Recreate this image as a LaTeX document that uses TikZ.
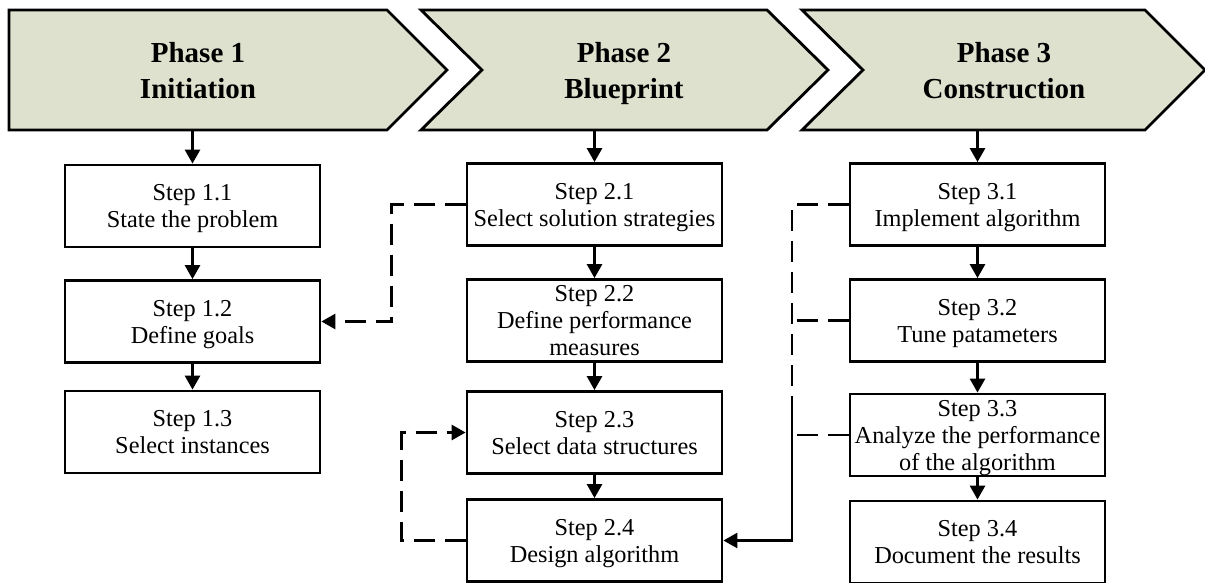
\documentclass[tikz,border=0pt]{standalone}
\usepackage{fontspec}
\setmainfont{Liberation Serif}
\usetikzlibrary{arrows.meta}
\definecolor{chevfill}{RGB}{221,225,205}
\begin{document}
\begin{tikzpicture}[x=1pt,y=-1pt,
  line width=2.8pt,
  stepbox/.style={draw=black, fill=white, minimum width=255pt, minimum height=82pt, inner sep=0pt, text depth=0pt, align=center, font=\fontsize{24.3}{27}\selectfont},
  phasetext/.style={minimum height=120pt, inner sep=0pt, text depth=0pt, align=center, font=\fontsize{29}{36}\selectfont\bfseries},
  chev/.style={draw=black, fill=chevfill, line join=miter},
  arr/.style={-{Triangle[length=14pt,width=15pt]}},
  dsh/.style={dash pattern=on 21pt off 10pt}
]
\useasboundingbox (0,0) rectangle (1205,583);

% chevrons
\path[chev] (9,10) -- (387,10) -- (447,70) -- (387,130) -- (9,130) -- cycle;
\path[chev] (421,10) -- (767,10) -- (828,70) -- (767,130) -- (421,130) -- (482,70) -- cycle;
\path[chev] (802,10) -- (1145,10) -- (1205,70) -- (1145,130) -- (802,130) -- (863,70) -- cycle;

\node[phasetext] (ph1) at (198,70) {Phase 1\\Initiation};
\node[phasetext] (ph2) at (624,70) {Phase 2\\Blueprint};
\node[phasetext] (ph3) at (1004,70) {Phase 3\\Construction};

% steps
\node[stepbox] (s11) at (192.5,206)   {Step 1.1\\State the problem};
\node[stepbox] (s12) at (192.5,321.5) {Step 1.2\\Define goals};
\node[stepbox] (s13) at (192.5,432)   {Step 1.3\\Select instances};

\node[stepbox] (s21) at (594.5,204.5) {Step 2.1\\Select solution strategies};
\node[stepbox] (s22) at (594.5,320.5) {Step 2.2\\Define performance\\measures};
\node[stepbox] (s23) at (594.5,432.5) {Step 2.3\\Select data structures};
\node[stepbox] (s24) at (594.5,540.5) {Step 2.4\\Design algorithm};

\node[stepbox] (s31) at (977.5,204.5) {Step 3.1\\Implement algorithm};
\node[stepbox] (s32) at (977.5,320.5) {Step 3.2\\Tune patameters};
\node[stepbox] (s33) at (977.5,435)   {Step 3.3\\Analyze the performance\\of the algorithm};
\node[stepbox] (s34) at (977.5,542)   {Step 3.4\\Document the results};

% solid arrows
\draw[arr] (ph1.south -| s11.north) -- (s11.north);
\draw[arr] (s11.south) -- (s12.north);
\draw[arr] (s12.south) -- (s13.north);

\draw[arr] (ph2.south -| s21.north) -- (s21.north);
\draw[arr] (s21.south) -- (s22.north);
\draw[arr] (s22.south) -- (s23.north);
\draw[arr] (s23.south) -- (s24.north);

\draw[arr] (ph3.south -| s31.north) -- (s31.north);
\draw[arr] (s31.south) -- (s32.north);
\draw[arr] (s32.south) -- (s33.north);
\draw[arr] (s33.south) -- (s34.north);

% dashed feedback connectors
\draw[dsh, arr] (s21.west) -- ++(-74,0) |- (s12.east);
\draw[dsh, arr] (s24.west) -- ++(-64,0) |- (s23.west);

\coordinate (j3) at (792,413);
\draw[dsh] (s31.west) -| (j3);
\draw[dsh] (s32.west) -- (s32.west -| j3);
\draw[dsh] (s33.west) -- (s33.west -| j3);
\draw[arr] (j3) |- (s24.east);
\end{tikzpicture}
\end{document}
